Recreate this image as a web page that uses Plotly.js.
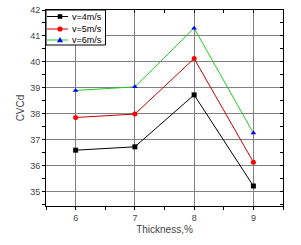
<!DOCTYPE html>
<html><head><meta charset="utf-8">
<script src="https://cdn.plot.ly/plotly-3.0.1.min.js"></script>
<style>html,body{margin:0;padding:0;background:#fff}#c{width:301px;height:245px}</style>
</head><body><div id="c"></div>
<script>
const thickness = [6, 7, 8, 9];
const v4 = [36.60, 36.73, 38.73, 35.22];
const v5 = [37.86, 37.99, 40.13, 36.14];
const v6 = [38.90, 39.04, 41.30, 37.26];
const seriesNames = ['v=4m/s', 'v=5m/s', 'v=6m/s'];
const xTicks = [6, 7, 8, 9];
const yTicks = [35, 36, 37, 38, 39, 40, 41, 42];

const W = 301, H = 245;
const M = {l: 46, r: 18, t: 10, b: 39};
const PW = W - M.l - M.r, PH = H - M.t - M.b;
const px = x => (x - M.l) / PW;
const py = y => (H - M.b - y) / PH;

const styles = [
  {mc: '#000000', lc: '#000000', sym: 'square'},
  {mc: '#ff0000', lc: '#cc0000', sym: 'circle'},
  {mc: '#0000ff', lc: '#22cc22', sym: 'triangle-up'}
];
const series = [v4, v5, v6];
const data = series.map((y, i) => ({
  x: thickness, y: y, name: seriesNames[i], type: 'scatter', mode: 'lines+markers',
  showlegend: false,
  line: {color: styles[i].lc, width: 1}, marker: {color: styles[i].mc, symbol: styles[i].sym, size: 5}
}));
data.push({x: [6], y: [35], xaxis: 'x2', yaxis: 'y2', showlegend: false, hoverinfo: 'skip',
   mode: 'markers', marker: {opacity: 0}, type: 'scatter'});

// custom compact legend (Origin-style)
const shapes = [{type: 'rect', xref: 'paper', yref: 'paper', x0: px(46), x1: px(105.5), y0: py(10), y1: py(45),
  line: {color: '#000', width: 1}, fillcolor: '#fff', layer: 'above'}];
const annotations = [];
const rowY = [16.5, 29, 40];
seriesNames.forEach((n, i) => {
  const yy = rowY[i], cx = 60, s = 2.3;
  shapes.push({type: 'line', xref: 'paper', yref: 'paper', x0: px(47), x1: px(68), y0: py(yy), y1: py(yy),
    line: {color: styles[i].lc, width: 1}, layer: 'above'});
  if (styles[i].sym === 'square') {
    shapes.push({type: 'rect', xref: 'paper', yref: 'paper', x0: px(cx - s), x1: px(cx + s), y0: py(yy - s), y1: py(yy + s),
      line: {width: 0}, fillcolor: styles[i].mc, layer: 'above'});
  } else if (styles[i].sym === 'circle') {
    shapes.push({type: 'circle', xref: 'paper', yref: 'paper', x0: px(cx - s - 0.3), x1: px(cx + s + 0.3), y0: py(yy - s - 0.3), y1: py(yy + s + 0.3),
      line: {width: 0}, fillcolor: styles[i].mc, layer: 'above'});
  } else {
    const p = `M ${px(cx - 3)} ${py(yy + 2.3)} L ${px(cx + 3)} ${py(yy + 2.3)} L ${px(cx)} ${py(yy - 3)} Z`;
    shapes.push({type: 'path', xref: 'paper', yref: 'paper', path: p, line: {width: 0}, fillcolor: styles[i].mc, layer: 'above'});
  }
  annotations.push({xref: 'paper', yref: 'paper', x: px(70), y: py(yy), xanchor: 'left', yanchor: 'middle',
    text: n, showarrow: false, font: {family: 'Liberation Sans, Arial, sans-serif', size: 9, color: '#000'}});
});

const fnt = {family: 'Liberation Sans, Arial, sans-serif', size: 9, color: '#444'};
const layout = {
  width: W, height: H,
  margin: M,
  paper_bgcolor: '#fff', plot_bgcolor: '#fff',
  showlegend: false,
  shapes: shapes, annotations: annotations,
  xaxis: {range: [5.5, 9.5], tickvals: xTicks, ticktext: xTicks.map(String),
    showgrid: true, gridcolor: '#808080', gridwidth: 1, zeroline: false,
    showline: true, linecolor: '#000', linewidth: 1, ticks: 'outside', ticklen: 3, tickcolor: '#000',
    minor: {dtick: 0.5, tick0: 5.5, ticks: 'outside', ticklen: 3, tickcolor: '#000', showgrid: false},
    tickfont: fnt,
    title: {text: 'Thickness,%', font: {family: 'Liberation Sans, Arial, sans-serif', size: 10, color: '#444'}, standoff: 4}},
  yaxis: {range: [34.45, 42], tickvals: yTicks, ticktext: yTicks.map(String),
    showgrid: true, gridcolor: '#808080', gridwidth: 1, zeroline: false,
    showline: true, linecolor: '#000', linewidth: 1, ticks: 'outside', ticklen: 3, tickcolor: '#000',
    minor: {dtick: 0.5, tick0: 34.5, ticks: 'outside', ticklen: 3, tickcolor: '#000', showgrid: false},
    tickfont: fnt,
    title: {text: 'CVCd', font: {family: 'Liberation Sans, Arial, sans-serif', size: 10, color: '#444'}, standoff: 3}},
  xaxis2: {overlaying: 'x', side: 'top', matches: 'x', range: [5.5, 9.5], tickvals: xTicks,
    showticklabels: false, showgrid: false, zeroline: false, showline: true, linecolor: '#000', linewidth: 1,
    ticks: 'inside', ticklen: 3, tickcolor: '#000',
    minor: {dtick: 0.5, tick0: 5.5, ticks: 'inside', ticklen: 3, tickcolor: '#000'}},
  yaxis2: {overlaying: 'y', side: 'right', range: [34.45, 42], tickvals: yTicks,
    showticklabels: false, showgrid: false, zeroline: false, showline: true, linecolor: '#000', linewidth: 1,
    ticks: 'inside', ticklen: 3, tickcolor: '#000',
    minor: {dtick: 0.5, tick0: 34.5, ticks: 'inside', ticklen: 3, tickcolor: '#000'}}
};
Plotly.newPlot('c', data, layout, {staticPlot: true, displayModeBar: false});
</script></body></html>
